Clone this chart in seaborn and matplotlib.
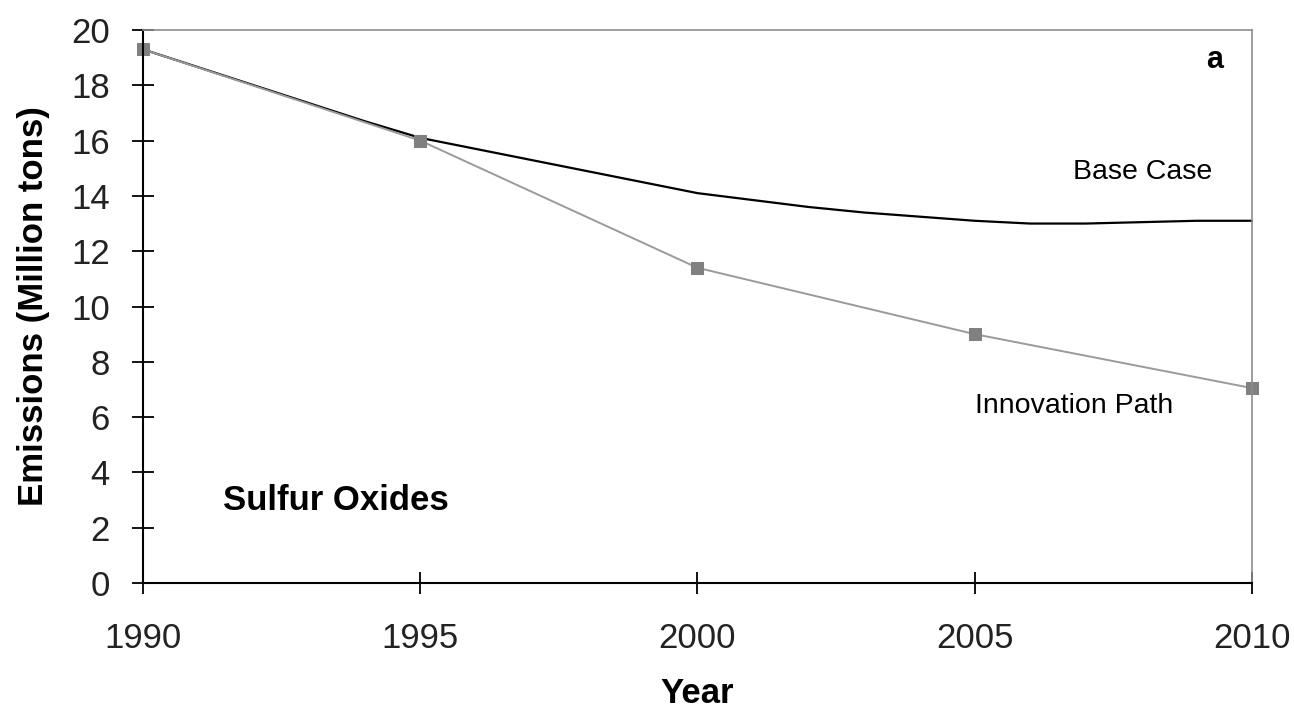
import numpy as np
import pandas as pd
import matplotlib
matplotlib.use("Agg")
import matplotlib.pyplot as plt
import seaborn as sns

# values
base_years = list(range(1990, 2011))
base_case = [19.3, 18.65, 18.0, 17.35, 16.7, 16.1, 15.7, 15.3, 14.9, 14.5, 14.1,
             13.85, 13.6, 13.4, 13.25, 13.1, 13.0, 13.0, 13.05, 13.1, 13.1]
innov_years = [1990, 1995, 2000, 2005, 2010]
innovation_path = [19.3, 16.0, 11.4, 9.0, 7.05]
x_ticks = [1990, 1995, 2000, 2005, 2010]
y_ticks = list(range(0, 21, 2))

sns.set_style("white")
plt.rcParams['font.family'] = ['Liberation Sans', 'DejaVu Sans']
plt.rcParams['text.color'] = "black"
plt.rcParams['axes.labelcolor'] = "black"
plt.rcParams['xtick.color'] = "black"
plt.rcParams['ytick.color'] = "black"

base_df = pd.DataFrame({"Year": base_years, "Emissions": base_case})
innov_df = pd.DataFrame({"Year": innov_years, "Emissions": innovation_path})

fig = plt.figure(figsize=(12.94, 7.09), dpi=100)
ax = fig.add_axes([0.1105, 0.1777, 0.857, 0.78])

sns.lineplot(data=base_df, x="Year", y="Emissions", ax=ax, color="black",
             linewidth=1.6, clip_on=False)
sns.lineplot(data=innov_df, x="Year", y="Emissions", ax=ax, color="#9a9a9a",
             linewidth=1.4, marker="s", markersize=9, markerfacecolor="#808080",
             markeredgecolor="#808080", clip_on=False)

ax.set_xlim(1990, 2010)
ax.set_ylim(0, 20)
ax.set_xticks(x_ticks)
ax.set_yticks(y_ticks)
ax.tick_params(axis="both", bottom=True, left=True, direction="inout", length=16,
               width=1.3, color="black", labelsize=25, labelcolor="#222222")
ax.tick_params(axis="x", pad=20)
ax.tick_params(axis="y", pad=16)

for side in ["left", "bottom"]:
    ax.spines[side].set_color("black")
    ax.spines[side].set_linewidth(1.5)
for side in ["top", "right"]:
    ax.spines[side].set_color("#8c8c8c")
    ax.spines[side].set_linewidth(1.2)

ax.set_xlabel("Year", fontsize=25, fontweight="bold", labelpad=16)
ax.set_ylabel("Emissions (Million tons)", fontsize=25, fontweight="bold", labelpad=15)

ax.text(1991.45, 3.0, "Sulfur Oxides", fontsize=25, fontweight="bold", va="center")
ax.text(2009.33, 18.9, "a", fontsize=22, fontweight="bold", ha="center", va="center")
ax.text(2008.02, 14.85, "Base Case", fontsize=20.5, ha="center", va="center")
ax.text(2006.8, 6.4, "Innovation Path", fontsize=20.5, ha="center", va="center")

fig.savefig("out.png", dpi=100)
